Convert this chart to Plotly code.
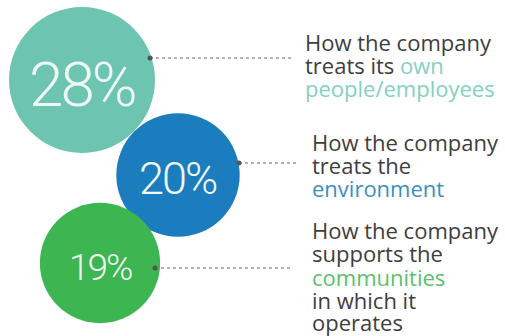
import plotly.graph_objects as go

# ---- data ----
values = [28, 20, 19]
value_labels = ["28%", "20%", "19%"]
label_lines = [
    ["How the company", "treats its <span style='color:#84d0c1'>own</span>", "<span style='color:#84d0c1'>people/employees</span>"],
    ["How the company", "treats the", "<span style='color:#3d8fc0'>environment</span>"],
    ["How the company", "supports the", "<span style='color:#5cbf6c'>communities</span>", "in which it", "operates"],
]

# ---- layout / style (pixel space) ----
W, H = 505, 336
centers_x = [82, 178, 100]
centers_y = [80, 175, 263]
circle_colors = ["#6cc4b1", "#1b7dbe", "#3db551"]
num_font_sizes = [62, 45, 37]
num_spacing = ["-3px", "-2px", "-2px"]
num_y_shift = [4, 3, 4]
line_start_x = [150, 239, 155]
line_y = [58, 163, 268]
line_end_x = [291, 297, 293]
text_x = [303, 310, 310]
text_line_y = [[42, 65, 88], [142, 165, 188], [230, 253, 277, 300, 322]]

fig = go.Figure()

for i in range(3):
    fig.add_trace(go.Scatter(
        x=[line_start_x[i], line_end_x[i]], y=[line_y[i], line_y[i]],
        mode="lines", line=dict(color="#9a9a9a", width=1.5, dash="dot"),
        hoverinfo="skip", showlegend=False))

fig.add_trace(go.Scatter(
    x=centers_x, y=centers_y, mode="markers",
    marker=dict(size=values, sizemode="area", sizeref=28 / (2 * 73 ** 2),
                color=circle_colors, line=dict(width=0), opacity=1),
    hoverinfo="skip", showlegend=False))

fig.add_trace(go.Scatter(
    x=line_start_x, y=line_y, mode="markers",
    marker=dict(size=5, color="#555555"), hoverinfo="skip", showlegend=False))

for i in range(3):
    fig.add_annotation(x=centers_x[i], y=centers_y[i] + num_y_shift[i],
                       text=f"<span style='letter-spacing:{num_spacing[i]}'>{value_labels[i]}</span>",
                       showarrow=False, xanchor="center", yanchor="middle",
                       font=dict(family="Roboto", size=num_font_sizes[i],
                                 color="#eef8f4", weight=300))

for i in range(3):
    for j, line in enumerate(label_lines[i]):
        fig.add_annotation(x=text_x[i], y=text_line_y[i][j], text=line,
                           showarrow=False, xanchor="left", yanchor="middle",
                           font=dict(family="Open Sans", size=22, color="#3e3e3e"))

fig.update_layout(
    width=W, height=H, margin=dict(l=0, r=0, t=0, b=0),
    paper_bgcolor="white", plot_bgcolor="white",
    xaxis=dict(range=[0, W], visible=False, fixedrange=True),
    yaxis=dict(range=[H, 0], visible=False, fixedrange=True),
)

fig.write_html("out.html")
